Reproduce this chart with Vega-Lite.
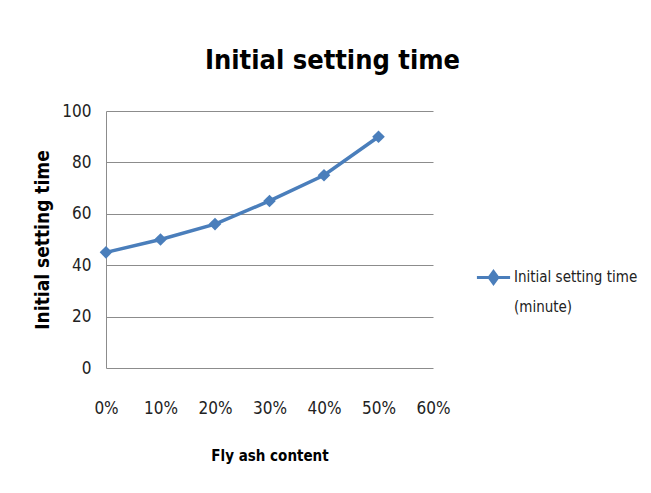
{
  "$schema": "https://vega.github.io/schema/vega-lite/v6.json",
  "width": 327,
  "height": 257,
  "autosize": {"type": "none"},
  "padding": {"left": 106, "top": 111, "right": 218, "bottom": 125},
  "background": "white",
  "config": {
    "font": "Liberation Sans Narrow, DejaVu Sans Condensed, Arial Narrow, sans-serif",
    "view": {"stroke": null}
  },
  "title": {
    "text": "Initial setting  time",
    "fontSize": 27,
    "fontWeight": "bold",
    "color": "black",
    "anchor": "middle",
    "frame": "group",
    "dx": 63,
    "dy": 35,
    "baseline": "alphabetic",
    "offset": 41
  },
  "data": {
    "values": [
      {"content": 0.0, "time": 45, "series": "Initial setting  time (minute)"},
      {"content": 0.1, "time": 50, "series": "Initial setting  time (minute)"},
      {"content": 0.2, "time": 56, "series": "Initial setting  time (minute)"},
      {"content": 0.3, "time": 65, "series": "Initial setting  time (minute)"},
      {"content": 0.4, "time": 75, "series": "Initial setting  time (minute)"},
      {"content": 0.5, "time": 90, "series": "Initial setting  time (minute)"}
    ]
  },
  "mark": {"type": "line", "strokeWidth": 3.5, "point": {"shape": "diamond", "size": 160, "filled": true, "opacity": 1}},
  "encoding": {
    "x": {
      "field": "content",
      "type": "quantitative",
      "scale": {"domain": [0, 0.6], "nice": false, "zero": false},
      "axis": {
        "values": [0, 0.1, 0.2, 0.3, 0.4, 0.5, 0.6],
        "format": ".0%",
        "grid": false,
        "ticks": false,
        "domain": false,
        "labelPadding": 32,
        "labelFontSize": 17,
        "labelColor": "#222222",
        "labelFlush": false,
        "title": "Fly ash content",
        "titleFontSize": 15,
        "titleFontWeight": "bold",
        "titleColor": "black",
        "titleX": 163.5,
        "titleY": 87,
        "titleBaseline": "middle"
      }
    },
    "y": {
      "field": "time",
      "type": "quantitative",
      "scale": {"domain": [0, 100], "nice": false},
      "axis": {
        "values": [0, 20, 40, 60, 80, 100],
        "grid": true,
        "gridColor": "#8c8c8c",
        "gridWidth": 1,
        "ticks": false,
        "domain": true,
        "domainColor": "#8c8c8c",
        "labelPadding": 15,
        "labelFontSize": 17,
        "labelColor": "#222222",
        "title": "Initial setting time",
        "titleFontSize": 19,
        "titleFontWeight": "bold",
        "titleColor": "black",
        "titleAngle": -90,
        "titleX": -64,
        "titleY": 128.5,
        "titleAlign": "center",
        "titleBaseline": "middle"
      }
    },
    "color": {
      "field": "series",
      "type": "nominal",
      "scale": {"range": ["#4a7ebb"]},
      "legend": {
        "title": null,
        "orient": "none",
        "legendX": 369,
        "legendY": 148,
        "symbolType": "M-1,0H1M0,-0.36L0.26,0L0,0.36L-0.26,0Z",
        "symbolSize": 1100,
        "symbolStrokeWidth": 3,
        "symbolFillColor": "#4a7ebb",
        "symbolStrokeColor": "#4a7ebb",
        "labelFontSize": 15,
        "labelColor": "#222222",
        "labelOffset": 2,
        "labelExpr": "['Initial setting  time', '(minute)']",
        "labelBaseline": "top",
        "labelLimit": 300,
        "encode": {
          "labels": {
            "update": {
              "lineHeight": {"value": 30},
              "dy": {"value": -8}
            }
          }
        }
      }
    }
  }
}
